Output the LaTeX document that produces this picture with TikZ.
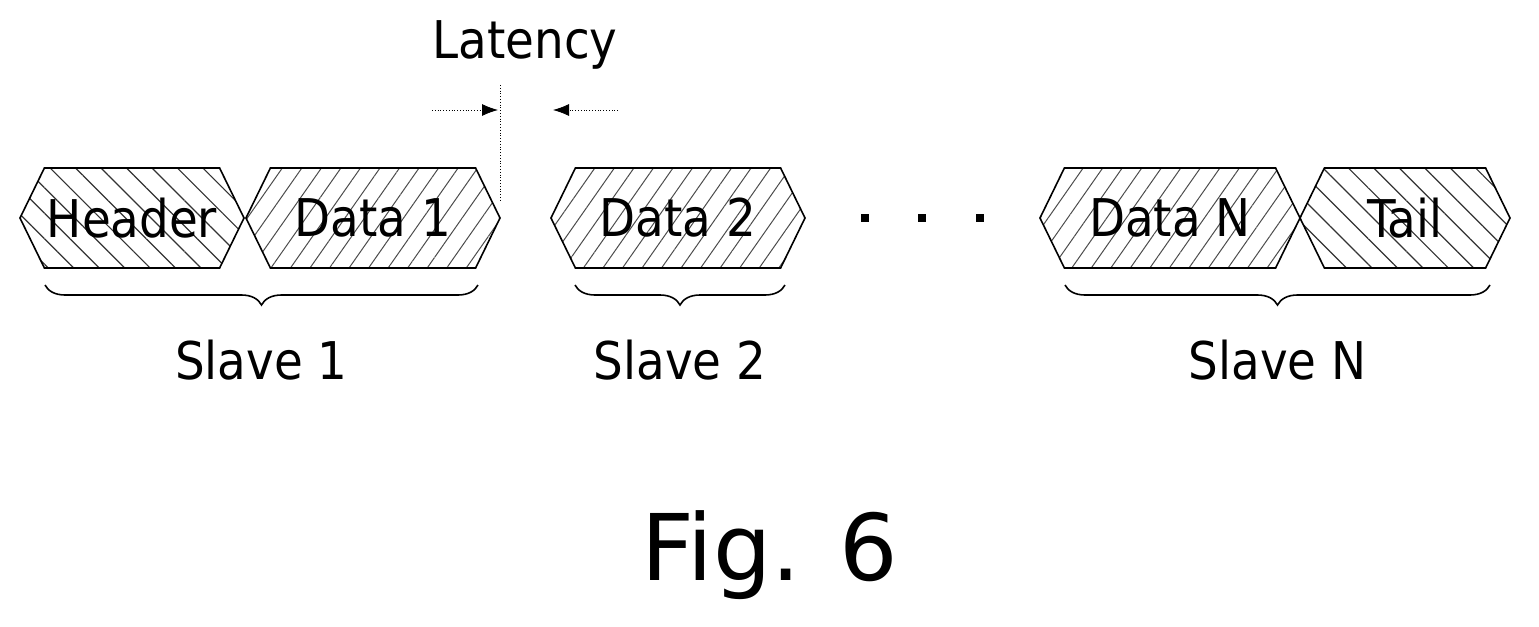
\documentclass[tikz,border=0pt]{standalone}
\usepackage{fontspec}
\setmainfont{DejaVu Sans Condensed}
\newfontfamily\figfont{DejaVu Sans}
\usetikzlibrary{shapes.symbols,patterns.meta,decorations.pathreplacing,arrows.meta}
\tikzset{
  seg/.style={signal, signal to=east and west, signal pointer angle=128,
    draw, thick, minimum height=50pt, inner sep=0pt, font=\fontsize{26}{30}\selectfont},
  hdr/.style={seg, pattern={Lines[angle=-45,distance=9pt,line width=0.6pt]}, pattern color=black!80},
  dat/.style={seg, pattern={Lines[angle=55,distance=8pt,line width=0.5pt]}, pattern color=black!70},
  brc/.style={decorate, decoration={brace, mirror, amplitude=10pt}, thick},
  lbl/.style={font=\fontsize{26}{30}\selectfont}
}
\begin{document}
\begin{tikzpicture}[x=0.5pt,y=-0.5pt]
  \useasboundingbox (0,0) rectangle (1539,627);
  % frame segments
  \node[hdr, minimum width=112pt] (head) at (132,218) {Header};
  \node[dat, minimum width=127pt] (d1) at (373,218) {Data 1};
  \node[dat, minimum width=127pt] (d2) at (678,218) {Data 2};
  \node[dat, minimum width=130pt] (dn) at (1170,218) {Data N};
  \node[hdr, minimum width=105pt] (tail) at (1405,218) {Tail};
  % dots
  \foreach \x in {865,922,980}
    \fill (\x-4,214) rectangle (\x+4,222);
  % braces and labels
  \coordinate (b1a) at (45,285);  \coordinate (b1b) at (478,285);
  \coordinate (b2a) at (575,285); \coordinate (b2b) at (785,285);
  \coordinate (bna) at (1065,285); \coordinate (bnb) at (1490,285);
  \draw[brc] (b1a) -- (b1b) node[midway, below=24pt, lbl] (s1) {Slave 1};
  \draw[brc] (b2a) -- (b2b) node[midway, below=24pt, lbl] (s2) {Slave 2};
  \draw[brc] (bna) -- (bnb) node[midway, below=24pt, lbl] (sn) {Slave N};
  % latency
  \node[lbl] (lat) at (525,45) {Latency};
  \coordinate (vt) at (500,85); \coordinate (vb) at (500,200);
  \draw[densely dotted] (vt) -- (vb);
  \coordinate (la) at (432,110); \coordinate (lb) at (498,110);
  \coordinate (ra) at (618,110); \coordinate (rb) at (553,110);
  \draw[densely dotted, -{Latex[length=8pt]}] (la) -- (lb);
  \draw[densely dotted, -{Latex[length=8pt]}] (ra) -- (rb);
  % caption
  \node[font=\figfont\fontsize{46}{52}\selectfont] (fig) at (770,555) {Fig. 6};
\end{tikzpicture}
\end{document}
